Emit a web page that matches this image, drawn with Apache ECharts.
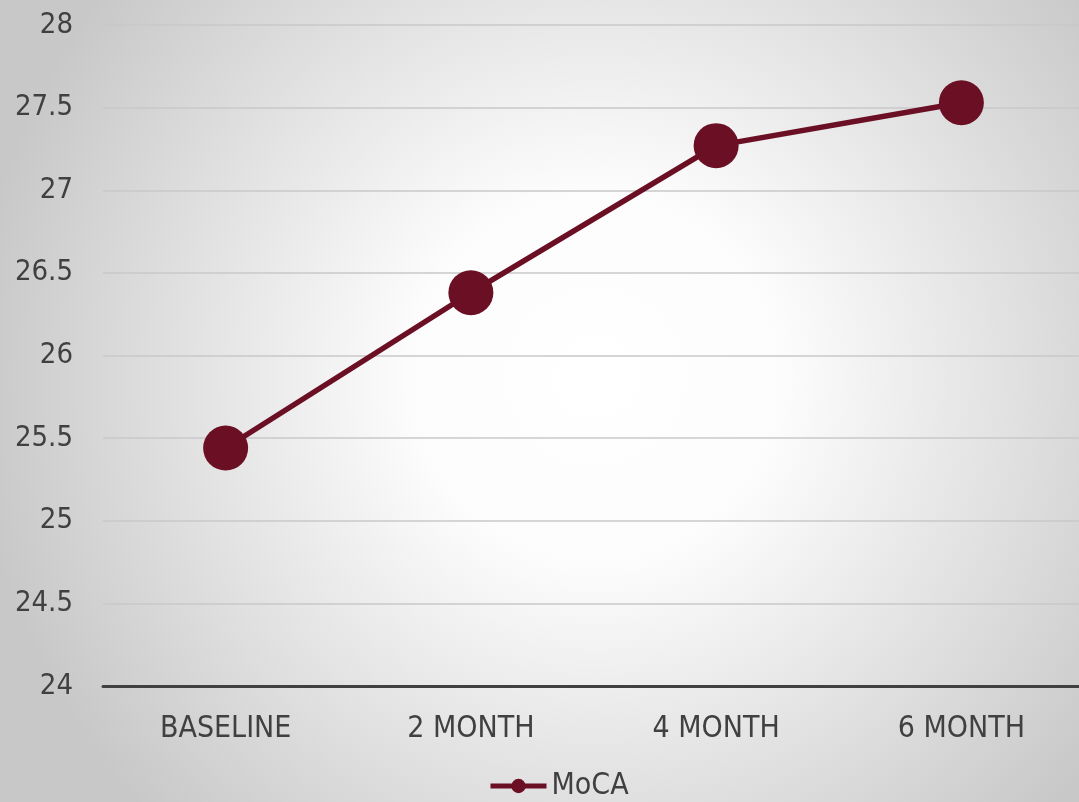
<!DOCTYPE html>
<html>
<head>
<meta charset="utf-8">
<script src="https://cdn.jsdelivr.net/npm/echarts@6/dist/echarts.min.js"></script>
<style>
  html, body { margin: 0; padding: 0; overflow: hidden; }
  #chart { width: 1084px; height: 802px; }
</style>
</head>
<body>
<div id="chart"></div>
<script>
const categories = ['BASELINE', '2 MONTH', '4 MONTH', '6 MONTH'];
const mocaScores = [25.44, 26.38, 27.27, 27.53];
const seriesName = 'MoCA';

const FONT = '"DejaVu Sans Condensed", "DejaVu Sans", sans-serif';
const TEXT = '#404040';
const WINE = '#6b0f24';

const chart = echarts.init(document.getElementById('chart'));
chart.setOption({
  animation: false,
  backgroundColor: {
    type: 'radial', x: 0.55, y: 0.47, r: 0.78,
    colorStops: [
      { offset: 0, color: '#ffffff' },
      { offset: 0.3, color: '#fcfcfc' },
      { offset: 1, color: '#c8c8c8' }
    ]
  },
  grid: { left: 103, right: 0, top: 25, bottom: 116, containLabel: false },
  legend: {
    left: 488,
    top: 771,
    padding: 0,
    itemWidth: 56,
    itemHeight: 18,
    lineStyle: { width: 5 },
    textStyle: { fontFamily: FONT, fontSize: 30, color: TEXT, lineHeight: 30 },
    data: [seriesName]
  },
  xAxis: {
    type: 'category',
    data: categories,
    axisTick: { show: false },
    axisLine: { lineStyle: { color: '#404040', width: 3 } },
    axisLabel: { fontFamily: FONT, fontSize: 30, color: TEXT, margin: 28 }
  },
  yAxis: {
    type: 'value',
    min: 24, max: 28, interval: 0.5,
    axisLine: { show: false },
    axisTick: { show: false },
    splitLine: { lineStyle: { color: '#c8c8c8', width: 1.5 } },
    axisLabel: { fontFamily: FONT, fontSize: 29, color: TEXT, margin: 30 }
  },
  series: [{
    name: seriesName,
    type: 'line',
    data: mocaScores,
    symbol: 'circle',
    symbolSize: 45,
    lineStyle: { color: WINE, width: 5.5 },
    itemStyle: { color: WINE }
  }]
});
</script>
</body>
</html>
